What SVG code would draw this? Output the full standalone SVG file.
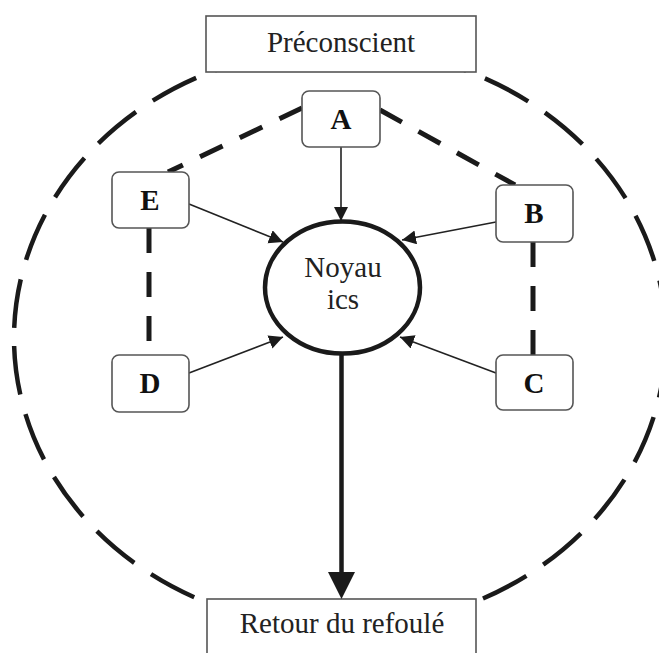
<svg xmlns="http://www.w3.org/2000/svg" width="659" height="653" viewBox="0 0 659 653">
<style>
.t{font-family:"Liberation Serif","Times New Roman",serif;font-size:29px;fill:#222;text-anchor:middle}
.l{font-family:"Liberation Serif","Times New Roman",serif;font-size:29px;font-weight:bold;fill:#111;text-anchor:middle}
.box{fill:#fff;stroke:#555;stroke-width:1.6}
.node{fill:#fff;stroke:#555;stroke-width:1.6}
.dl{fill:none;stroke:#1a1a1a;stroke-width:5;stroke-dasharray:25 19}
.ar{fill:none;stroke:#222;stroke-width:1.6;marker-end:url(#ah)}
</style>
<defs>
<marker id="ah" markerUnits="userSpaceOnUse" markerWidth="15" markerHeight="15" refX="14" refY="7" orient="auto">
<path d="M0,0 L14,7 L0,14 z" fill="#1a1a1a"/>
</marker>
</defs>
<rect width="659" height="653" fill="#fff"/>
<g id="outer">
<path d="M14 338 A326 290 0 0 1 666 338 A326 290 0 0 1 14 338" fill="none" stroke="#1a1a1a" stroke-width="4.5" stroke-dasharray="49 20.2" stroke-dashoffset="59"/>
</g>
<g id="preconscient">
<rect class="box" x="206" y="16" width="270" height="56"/>
<text class="t" x="341" y="52">Préconscient</text>
</g>
<g id="retour">
<rect class="box" x="207" y="599" width="269" height="70"/>
<text class="t" x="342" y="633">Retour du refoulé</text>
</g>
<g id="connectors">
<line class="dl" x1="302" y1="108" x2="168" y2="172"/>
<line class="dl" x1="380" y1="110" x2="515" y2="185"/>
<line class="dl" x1="533" y1="242" x2="533" y2="355"/>
<line class="dl" x1="149" y1="228" x2="149" y2="355"/>
<line class="ar" x1="341" y1="147" x2="341" y2="221"/>
<line class="ar" x1="189" y1="204" x2="283" y2="242"/>
<line class="ar" x1="189" y1="373" x2="283" y2="337"/>
<line class="ar" x1="496" y1="222" x2="402" y2="240"/>
<line class="ar" x1="496" y1="373" x2="400" y2="337"/>
<line x1="341.5" y1="354" x2="341.5" y2="574" stroke="#1a1a1a" stroke-width="4.5"/>
<polygon points="328,572 355,572 341.5,599" fill="#1a1a1a"/>
</g>
<g id="noyau">
<ellipse cx="342.5" cy="287.5" rx="77.5" ry="66" fill="#fff" stroke="#1a1a1a" stroke-width="4.5"/>
<text class="t" x="343" y="277">Noyau</text>
<text class="t" x="343" y="309">ics</text>
</g>
<g id="A">
<rect class="node" x="302" y="91" width="78" height="56" rx="7"/>
<text class="l" x="341" y="129">A</text>
</g>
<g id="B">
<rect class="node" x="496" y="185" width="77" height="57" rx="7"/>
<text class="l" x="534" y="223">B</text>
</g>
<g id="C">
<rect class="node" x="496" y="355" width="77" height="55" rx="7"/>
<text class="l" x="534" y="393">C</text>
</g>
<g id="D">
<rect class="node" x="112" y="355" width="77" height="57" rx="7"/>
<text class="l" x="150" y="393">D</text>
</g>
<g id="E">
<rect class="node" x="112" y="172" width="77" height="56" rx="7"/>
<text class="l" x="150" y="210">E</text>
</g>
</svg>
